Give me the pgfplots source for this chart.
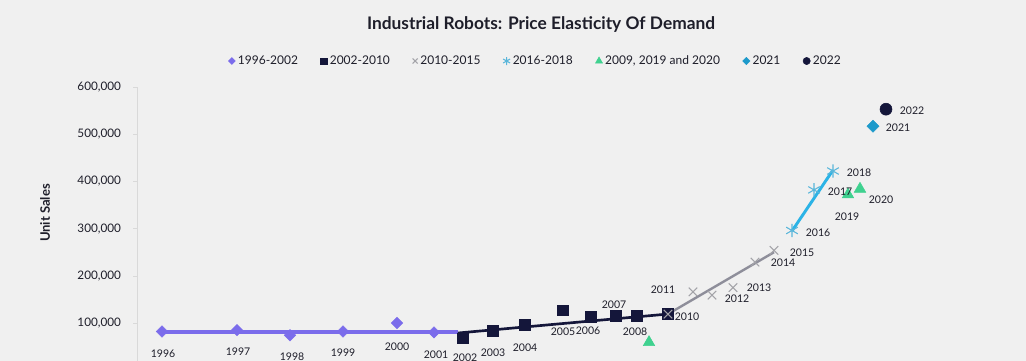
\documentclass[border=0pt]{standalone}
\usepackage{fontspec}
\setmainfont{Lato}
\usepackage{pgfplots}
\pgfplotsset{compat=1.18}
\definecolor{bg}{HTML}{F0F0F0}
\definecolor{txt}{HTML}{1E1E2A}
\definecolor{cpurple}{HTML}{7B6CEB}
\definecolor{cnavy}{HTML}{14163A}
\definecolor{cgrayline}{HTML}{8E8E9A}
\definecolor{cgraymark}{HTML}{A3A3A8}
\definecolor{clblue}{HTML}{2BB3E6}
\definecolor{clbluemark}{HTML}{5AB6DA}
\definecolor{cgreen}{HTML}{3FD18F}
\definecolor{cblue}{HTML}{1D9ACB}
\begin{document}
\begin{tikzpicture}
\useasboundingbox (0,0) rectangle (769.5pt,270.75pt);
\fill[bg] (0,0) rectangle (769.5pt,270.75pt);
\clip (0,0) rectangle (769.5pt,270.75pt);
\begin{axis}[
  at={(102.75pt,-6.9pt)}, anchor=south west,
  scale only axis, width=654.75pt, height=212.4pt,
  xmin=137, xmax=1010, ymin=0, ymax=600000,
  axis x line=none, axis y line=left,
  axis line style={draw=black!15,-},
  ytick={100000,200000,300000,400000,500000,600000},
  scaled y ticks=false,
  major tick length=3pt, tick align=outside,
  tick style={draw=black!15},
  yticklabel style={font=\fontsize{8.8}{10}\selectfont, text=txt, xshift=-5.5pt},
  /pgf/number format/.cd, fixed, 1000 sep={,}, assume math mode=true,
  /pgfplots/.cd,
  ylabel={Unit Sales},
  ylabel style={at={(axis description cs:0,0.555)}, anchor=center, yshift=69pt, font=\fontsize{9.8}{11}\selectfont\bfseries, text=txt},
  title={Industrial Robots: Price Elasticity Of Demand},
  title style={at={(axis description cs:0.4628,1)}, anchor=center, yshift=41pt, font=\fontsize{13}{15}\selectfont\bfseries, text=txt},
  legend style={at={(axis description cs:0.457,1)}, anchor=center, yshift=19.5pt, draw=none, fill=none, legend columns=-1, font=\fontsize{9}{11}\selectfont, text=txt, /tikz/every even column/.append style={column sep=15pt}},
  legend image post style={scale=0.6},
  legend cell align=left,
]
% trend lines
\addplot[cpurple, line width=2.3pt, forget plot] coordinates {(162,81000) (458,81000)};
\addplot[cnavy, line width=2pt, forget plot] coordinates {(458,78800) (668,119000)};
\addplot[cgrayline, line width=1.8pt, forget plot] coordinates {(668,119000) (774,250000)};
\addplot[clblue, line width=2.2pt, forget plot] coordinates {(792,295000) (833,424000)};
% 1996-2002
\addplot[only marks, mark=square*, mark size=3pt, mark options={rotate=45, fill=cpurple, draw=cpurple}] coordinates {
(162,82000) (237,85000) (290,74000) (343,82000) (397,100000) (434,80000)};
\addlegendentry{1996-2002}
% 2002-2010
\addplot[only marks, mark=square*, mark size=4pt, mark options={fill=cnavy, draw=cnavy}] coordinates {
(463,68000) (493,83000) (525,96000) (563,127000) (591,113000) (616,115000) (637,115000) (668,119000)};
\addlegendentry{2002-2010}
% 2010-2015
\addplot[only marks, mark=x, mark size=4.5pt, mark options={draw=cgraymark, line width=0.8pt}] coordinates {
(668,119000) (693,166000) (712,159000) (733,175000) (755,229000) (774,254000)};
\addlegendentry{2010-2015}
% 2016-2018
\addplot[only marks, mark=asterisk, mark size=5pt, mark options={draw=clbluemark, line width=0.8pt}] coordinates {
(792,296000) (814,382000) (833,422000)};
\addlegendentry{2016-2018}
% 2009, 2019, 2020
\addplot[only marks, mark=triangle*, mark size=5pt, mark options={fill=cgreen, draw=cgreen}] coordinates {
(649,59000) (848,372000) (860,384000)};
\addlegendentry{2009, 2019 and 2020}
% 2021
\addplot[only marks, mark=square*, mark size=3.2pt, mark options={rotate=45, fill=cblue, draw=cblue}] coordinates {(873,517000)};
\addlegendentry{2021}
% 2022
\addplot[only marks, mark=*, mark size=4.5pt, mark options={fill=cnavy, draw=cnavy}] coordinates {(886,553000)};
\addlegendentry{2022}
% year labels
\addplot[only marks, mark=none, forget plot, nodes near coords, point meta=explicit symbolic,
  nodes near coords align=center,
  every node near coord/.append style={font=\fontsize{7.9}{9}\selectfont, text=txt, inner sep=0pt}]
  table[meta=lab] {
x y lab
163 34300 1996
238 38600 1997
292 28000 1998
343 36400 1999
397 49200 2000
436 32200 2001
465 25800 2002
493 36400 2003
525 47000 2004
563 80900 2005
588 83000 2006
614 138100 2007
635 80900 2008
650 8900 2009
687 112800 2010
663 169900 2011
737 150900 2012
759 174200 2013
783 227200 2014
802 248300 2015
818 290700 2016
840 377600 2017
859 417800 2018
847 324600 2019
881 360600 2020
898 513100 2021
912 549100 2022
};
\end{axis}
\end{tikzpicture}
\end{document}
